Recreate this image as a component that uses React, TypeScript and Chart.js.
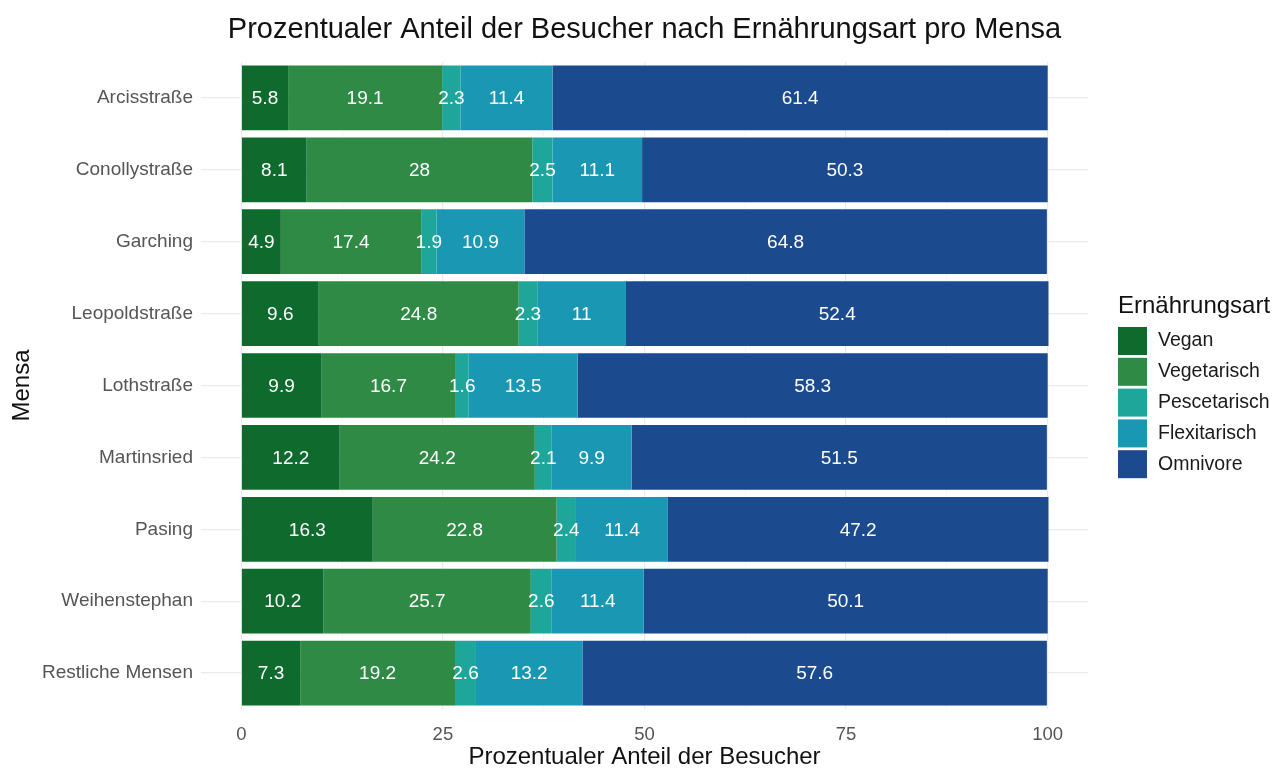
import React, { useEffect, useRef } from "react";
import { Chart, registerables } from "chart.js";

Chart.register(...registerables);

const mensen = [
  "Arcisstraße",
  "Conollystraße",
  "Garching",
  "Leopoldstraße",
  "Lothstraße",
  "Martinsried",
  "Pasing",
  "Weihenstephan",
  "Restliche Mensen",
];

const vegan = [5.8, 8.1, 4.9, 9.6, 9.9, 12.2, 16.3, 10.2, 7.3];
const vegetarisch = [19.1, 28, 17.4, 24.8, 16.7, 24.2, 22.8, 25.7, 19.2];
const pescetarisch = [2.3, 2.5, 1.9, 2.3, 1.6, 2.1, 2.4, 2.6, 2.6];
const flexitarisch = [11.4, 11.1, 10.9, 11, 13.5, 9.9, 11.4, 11.4, 13.2];
const omnivore = [61.4, 50.3, 64.8, 52.4, 58.3, 51.5, 47.2, 50.1, 57.6];

const seriesNames = ["Vegan", "Vegetarisch", "Pescetarisch", "Flexitarisch", "Omnivore"];
const seriesColors = ["#0f6b2d", "#2f8a45", "#1fa69b", "#1a97b3", "#1b4a8f"];
const xTickValues = [0, 12.5, 25, 37.5, 50, 62.5, 75, 87.5, 100];

const FONT = "'Liberation Sans', Arial, Helvetica, sans-serif";

const overlayPlugin = {
  id: "overlay",
  afterDatasetsDraw(chart: any) {
    const ctx = chart.ctx;
    ctx.save();
    ctx.fillStyle = "#ffffff";
    ctx.font = `19px ${FONT}`;
    ctx.textAlign = "center";
    ctx.textBaseline = "middle";
    chart.data.datasets.forEach((ds: any, di: number) => {
      const meta = chart.getDatasetMeta(di);
      meta.data.forEach((bar: any, i: number) => {
        const v = ds.data[i];
        const cx = (bar.x + bar.base) / 2;
        ctx.fillText(String(v), cx, bar.y + 1);
      });
    });
    ctx.restore();
  },
  afterDraw(chart: any) {
    const ctx = chart.ctx;
    const area = chart.chartArea;
    ctx.save();
    ctx.textBaseline = "middle";
    // title
    ctx.fillStyle = "#111111";
    ctx.font = `29px ${FONT}`;
    ctx.textAlign = "center";
    ctx.fillText(
      "Prozentualer Anteil der Besucher nach Ernährungsart pro Mensa",
      (area.left + area.right) / 2,
      30
    );
    // x axis title
    ctx.font = `24px ${FONT}`;
    ctx.fillText("Prozentualer Anteil der Besucher", (area.left + area.right) / 2, 757);
    // legend
    const lx = 1118;
    ctx.textAlign = "left";
    ctx.font = `24px ${FONT}`;
    ctx.fillStyle = "#111111";
    ctx.fillText("Ernährungsart", lx, 306);
    ctx.font = `19.5px ${FONT}`;
    chart.data.datasets.forEach((ds: any, i: number) => {
      const top = 327 + i * 30.8;
      ctx.fillStyle = ds.backgroundColor;
      ctx.fillRect(lx, top, 29, 28);
      ctx.fillStyle = "#1a1a1a";
      ctx.fillText(ds.label, lx + 40, top + 14);
    });
    ctx.restore();
  },
};

export default function App() {
  const canvasRef = useRef<HTMLCanvasElement | null>(null);

  useEffect(() => {
    const canvas = canvasRef.current;
    if (!canvas) return;
    const seriesData = [vegan, vegetarisch, pescetarisch, flexitarisch, omnivore];
    const chart = new Chart(canvas, {
      type: "bar",
      data: {
        labels: mensen,
        datasets: seriesNames.map((name, i) => ({
          label: name,
          data: seriesData[i],
          backgroundColor: seriesColors[i],
          borderWidth: 0,
          barPercentage: 0.9,
          categoryPercentage: 1,
        })),
      },
      options: {
        indexAxis: "y",
        animation: false,
        responsive: false,
        maintainAspectRatio: false,
        layout: { padding: { top: 62, right: 186, bottom: 0, left: 0 } },
        plugins: {
          legend: { display: false },
          title: { display: false },
          tooltip: { enabled: false },
        },
        scales: {
          x: {
            type: "linear",
            stacked: true,
            min: -5,
            max: 105,
            afterBuildTicks: (scale: any) => {
              scale.ticks = xTickValues.map((v) => ({ value: v }));
            },
            afterFit: (scale: any) => {
              scale.height = 62;
            },
            border: { display: false },
            grid: {
              drawTicks: false,
              color: (c: any) =>
                c.tick && c.tick.value % 25 === 0 ? "#ebebeb" : "#f3f3f3",
              lineWidth: (c: any) => (c.tick && c.tick.value % 25 === 0 ? 1.2 : 0.7),
            },
            ticks: {
              padding: 15,
              color: "#555555",
              font: { family: FONT, size: 18.5 },
              maxRotation: 0,
              autoSkip: false,
              callback: (v: any) => (Number(v) % 25 === 0 ? String(v) : ""),
            },
            title: { display: false },
          },
          y: {
            type: "category",
            stacked: true,
            offset: true,
            afterFit: (scale: any) => {
              scale.width = 201;
            },
            border: { display: false },
            grid: {
              offset: false,
              drawTicks: false,
              color: "#ebebeb",
              lineWidth: 1.2,
            },
            ticks: {
              padding: 8,
              color: "#555555",
              font: { family: FONT, size: 19 },
              autoSkip: false,
            },
            title: {
              display: true,
              text: "Mensa",
              color: "#111111",
              font: { family: FONT, size: 24 },
              padding: { top: 8, bottom: 0 },
            },
          },
        },
      },
      plugins: [overlayPlugin],
    } as any);
    return () => chart.destroy();
  }, []);

  return (
    <div style={{ position: "fixed", left: 0, top: 0, width: 1274, height: 771, background: "#ffffff" }}>
      <canvas ref={canvasRef} width={1274} height={771} style={{ display: "block" }} />
    </div>
  );
}
